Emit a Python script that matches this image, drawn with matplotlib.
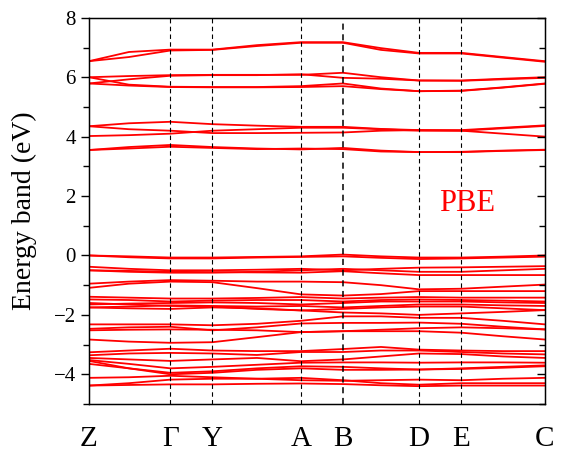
import numpy as np
import matplotlib.pyplot as plt

# high-symmetry points along the k path
kpt_labels = ['Z', 'Γ', 'Y', 'A', 'B', 'D', 'E', 'C']
kpt_pos = [0, 81.5, 123.5, 212, 254, 330, 372.5, 456]

# k positions where the band energies were read
k = [0, 40, 81.5, 123.5, 168, 212, 254, 292, 330, 372.5, 414, 456]

# conduction bands (eV)
c1 = [6.54, 6.85, 6.93, 6.93, 7.08, 7.18, 7.18, 6.98, 6.82, 6.82, 6.68, 6.54]
c2 = [6.54, 6.68, 6.90, 6.92, 7.05, 7.16, 7.16, 6.92, 6.80, 6.80, 6.66, 6.52]
c3 = [6.00, 6.04, 6.07, 6.08, 6.08, 6.08, 6.15, 6.00, 5.89, 5.89, 5.95, 6.00]
c4 = [5.79, 5.93, 6.05, 6.07, 6.07, 6.10, 5.98, 5.95, 5.89, 5.88, 5.93, 5.98]
c5 = [6.00, 5.75, 5.68, 5.67, 5.67, 5.70, 5.79, 5.62, 5.53, 5.55, 5.66, 5.79]
c6 = [5.79, 5.72, 5.67, 5.66, 5.66, 5.67, 5.70, 5.60, 5.53, 5.54, 5.65, 5.78]
c7 = [4.35, 4.45, 4.50, 4.42, 4.37, 4.33, 4.33, 4.26, 4.22, 4.22, 4.30, 4.38]
c8 = [4.35, 4.25, 4.20, 4.12, 4.12, 4.13, 4.14, 4.20, 4.22, 4.20, 4.10, 4.00]
c9 = [4.02, 4.05, 4.10, 4.20, 4.25, 4.30, 4.30, 4.25, 4.20, 4.20, 4.28, 4.36]
c10 = [3.55, 3.65, 3.72, 3.65, 3.60, 3.57, 3.62, 3.53, 3.48, 3.48, 3.52, 3.55]
c11 = [3.55, 3.60, 3.66, 3.62, 3.58, 3.60, 3.58, 3.50, 3.48, 3.49, 3.53, 3.56]

# valence bands (eV)
v1 = [0.00, -0.03, -0.07, -0.07, -0.05, -0.03, 0.03, -0.03, -0.07, -0.07, -0.04, 0.00]
v2 = [0.00, -0.06, -0.10, -0.10, -0.07, -0.05, -0.03, -0.08, -0.12, -0.10, -0.07, -0.04]
v3 = [-0.38, -0.45, -0.50, -0.50, -0.48, -0.45, -0.50, -0.45, -0.41, -0.40, -0.38, -0.36]
v4 = [-0.50, -0.52, -0.55, -0.56, -0.57, -0.58, -0.53, -0.60, -0.66, -0.66, -0.66, -0.66]
v5 = [-0.50, -0.55, -0.58, -0.58, -0.55, -0.50, -0.45, -0.50, -0.55, -0.55, -0.50, -0.45]
v6 = [-0.95, -0.88, -0.83, -0.85, -0.88, -0.88, -0.90, -1.00, -1.14, -1.12, -1.05, -0.98]
v7 = [-1.09, -0.95, -0.88, -0.90, -1.10, -1.31, -1.35, -1.30, -1.20, -1.20, -1.20, -1.20]
v8 = [-1.39, -1.42, -1.45, -1.45, -1.43, -1.40, -1.45, -1.42, -1.40, -1.42, -1.42, -1.42]
v9 = [-1.48, -1.50, -1.55, -1.52, -1.50, -1.50, -1.55, -1.50, -1.48, -1.50, -1.52, -1.55]
v10 = [-1.65, -1.62, -1.60, -1.58, -1.60, -1.65, -1.60, -1.55, -1.55, -1.55, -1.58, -1.60]
v11 = [-1.75, -1.72, -1.68, -1.70, -1.72, -1.70, -1.75, -1.70, -1.65, -1.65, -1.68, -1.70]
v12 = [-1.75, -1.78, -1.80, -1.75, -1.78, -1.85, -1.80, -1.75, -1.72, -1.72, -1.78, -1.84]
v13 = [-1.60, -1.65, -1.70, -1.72, -1.80, -1.85, -1.92, -1.95, -2.00, -1.95, -1.90, -1.84]
v14 = [-2.32, -2.32, -2.32, -2.35, -2.30, -2.20, -2.05, -2.05, -2.10, -2.10, -2.20, -2.32]
v15 = [-2.47, -2.42, -2.40, -2.52, -2.42, -2.29, -2.27, -2.27, -2.26, -2.30, -2.40, -2.49]
v16 = [-2.52, -2.50, -2.49, -2.50, -2.52, -2.58, -2.55, -2.55, -2.55, -2.60, -2.72, -2.83]
v17 = [-2.83, -2.90, -2.94, -2.92, -2.75, -2.58, -2.55, -2.50, -2.45, -2.42, -2.45, -2.49]
v18 = [-3.26, -3.20, -3.14, -3.20, -3.22, -3.22, -3.15, -3.08, -3.17, -3.20, -3.22, -3.22]
v19 = [-3.36, -3.30, -3.28, -3.30, -3.35, -3.25, -3.25, -3.20, -3.20, -3.25, -3.30, -3.33]
v20 = [-3.45, -3.50, -3.55, -3.50, -3.45, -3.56, -3.50, -3.40, -3.30, -3.32, -3.40, -3.45]
v21 = [-3.52, -3.65, -3.80, -3.75, -3.68, -3.61, -3.60, -3.60, -3.61, -3.60, -3.60, -3.61]
v22 = [-3.65, -3.80, -3.95, -3.90, -3.80, -3.73, -3.75, -3.80, -3.84, -3.82, -3.78, -3.73]
v23 = [-3.55, -3.80, -4.00, -3.95, -3.85, -3.80, -3.85, -3.85, -3.84, -3.80, -3.75, -3.70]
v24 = [-4.12, -4.10, -4.05, -4.10, -4.15, -4.20, -4.22, -4.20, -4.18, -4.20, -4.15, -4.12]
v25 = [-4.38, -4.36, -4.34, -4.34, -4.32, -4.31, -4.33, -4.37, -4.40, -4.38, -4.38, -4.38]
v26 = [-4.38, -4.30, -4.18, -4.15, -4.15, -4.12, -4.20, -4.30, -4.35, -4.30, -4.30, -4.30]

bands = [c1, c2, c3, c4, c5, c6, c7, c8, c9, c10, c11,
         v1, v2, v3, v4, v5, v6, v7, v8, v9, v10, v11, v12, v13,
         v14, v15, v16, v17, v18, v19, v20, v21, v22, v23, v24, v25, v26]

plt.rcParams['font.family'] = ['Liberation Serif', 'DejaVu Serif']

fig = plt.figure(figsize=(5.63, 4.57), dpi=100)
ax = fig.add_axes([0.158, 0.116, 0.810, 0.845])

for b in bands:
    ax.plot(k, b, color='#ff0000', lw=1.3)

# dashed lines at the inner high-symmetry points
for i, x in enumerate(kpt_pos[1:-1]):
    lw = 1.1 if kpt_labels[i + 1] == 'B' else 0.8
    ax.axvline(x, color='black', lw=lw, ls=(0, (4, 3)))

ax.set_xlim(kpt_pos[0], kpt_pos[-1])
ax.set_ylim(-5, 8)
ax.set_xticks(kpt_pos)
ax.set_xticklabels(kpt_labels, fontsize=21)
ax.tick_params(axis='x', length=0, pad=16)

ax.set_yticks([-4, -2, 0, 2, 4, 6, 8])
ax.set_yticks([-5, -3, -1, 1, 3, 5, 7], minor=True)
ax.tick_params(axis='y', which='major', direction='out', length=6, width=1,
               labelsize=15)
ax.tick_params(axis='y', which='minor', direction='out', length=4, width=1)

# right-hand ticks point into the plot
axr = ax.twinx()
axr.set_ylim(-5, 8)
axr.set_yticks([-4, -2, 0, 2, 4, 6, 8])
axr.set_yticks([-5, -3, -1, 1, 3, 5, 7], minor=True)
axr.tick_params(axis='y', which='major', direction='in', length=6, width=1,
                labelright=False)
axr.tick_params(axis='y', which='minor', direction='in', length=4, width=1)

ax.set_ylabel('Energy band (eV)', fontsize=20, labelpad=12)
ax.text(0.83, 0.52, 'PBE', transform=ax.transAxes, color='#ff0000',
        fontsize=22, ha='center', va='center', zorder=5)

for s in ax.spines.values():
    s.set_linewidth(1.0)

fig.savefig('out.png', dpi=100)
